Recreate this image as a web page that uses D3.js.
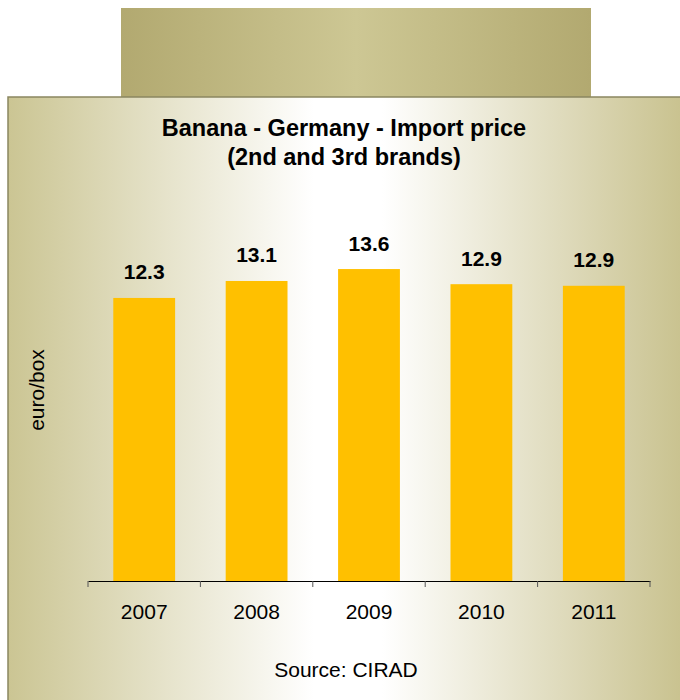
<!DOCTYPE html>
<html>
<head>
<meta charset="utf-8">
<script src="https://cdn.jsdelivr.net/npm/d3@7"></script>
<style>
  body { margin: 0; background: #fff; }
  text { font-family: "Liberation Sans", Arial, sans-serif; fill: #000; }
</style>
</head>
<body>
<div id="chart"></div>
<script>
// Data
const years = ["2007", "2008", "2009", "2010", "2011"];
const prices = [12.34, 13.08, 13.6, 12.94, 12.87];
const titleLines = ["Banana - Germany - Import price", "(2nd and 3rd brands)"];
const yLabel = "euro/box";
const source = "Source: CIRAD";

// Dimensions
const width = 680;
const height = 700;

const svg = d3.select("#chart")
    .append("svg")
    .attr("width", width)
    .attr("height", height);

// Gradients
const defs = svg.append("defs");
const topGrad = defs.append("linearGradient").attr("id", "topGrad");
topGrad.append("stop").attr("offset", "0%").attr("stop-color", "#b2a970");
topGrad.append("stop").attr("offset", "50%").attr("stop-color", "#cdc794");
topGrad.append("stop").attr("offset", "100%").attr("stop-color", "#b2a970");

const panelGrad = defs.append("linearGradient").attr("id", "panelGrad");
panelGrad.append("stop").attr("offset", "0%").attr("stop-color", "#cbc593");
panelGrad.append("stop").attr("offset", "45%").attr("stop-color", "#ffffff");
panelGrad.append("stop").attr("offset", "55%").attr("stop-color", "#ffffff");
panelGrad.append("stop").attr("offset", "100%").attr("stop-color", "#c8c18d");

// Background shapes
svg.append("rect")
    .attr("x", 121).attr("y", 8)
    .attr("width", 470).attr("height", 89)
    .attr("fill", "url(#topGrad)");

svg.append("rect")
    .attr("x", 8).attr("y", 97)
    .attr("width", 680).attr("height", 620)
    .attr("fill", "url(#panelGrad)")
    .attr("stroke", "#8a8660")
    .attr("stroke-width", 1.5);

// Scales
const x = d3.scaleBand()
    .domain(years)
    .range([88, 650])
    .paddingInner(0.45)
    .paddingOuter(0.225);

const y = d3.scaleLinear()
    .domain([0, 16])
    .range([581, 214]);

// Bars
svg.selectAll(".bar")
    .data(years)
    .enter()
    .append("rect")
    .attr("class", "bar")
    .attr("x", d => x(d))
    .attr("y", (d, i) => y(prices[i]))
    .attr("width", x.bandwidth())
    .attr("height", (d, i) => y(0) - y(prices[i]))
    .attr("fill", "#ffc000");

// Value labels
svg.selectAll(".val")
    .data(years)
    .enter()
    .append("text")
    .attr("class", "val")
    .attr("x", d => x(d) + x.bandwidth() / 2)
    .attr("y", (d, i) => y(prices[i]) - 18.5)
    .attr("text-anchor", "middle")
    .style("font-size", "21px")
    .style("font-weight", "bold")
    .text((d, i) => d3.format(".1f")(prices[i]));

// X axis
const xAxis = svg.append("g")
    .attr("transform", `translate(0,${y(0)})`)
    .call(d3.axisBottom(x).tickSize(0).tickPadding(23));
xAxis.select(".domain").attr("stroke", "#000").attr("stroke-width", 1.2);
xAxis.selectAll("text")
    .style("font-size", "21px")
    .style("font-family", "'Liberation Sans', Arial, sans-serif");

// tick marks between categories
const bounds = years.map(d => x(d) - x.step() * x.paddingInner() / 2).concat([650]);
xAxis.selectAll(".sep")
    .data(bounds)
    .enter()
    .append("line")
    .attr("class", "sep")
    .attr("x1", d => d).attr("x2", d => d)
    .attr("y1", 0).attr("y2", 6)
    .attr("stroke", "#555")
    .attr("stroke-width", 1);

// Title
svg.selectAll(".title")
    .data(titleLines)
    .enter()
    .append("text")
    .attr("class", "title")
    .attr("x", 344)
    .attr("y", (d, i) => 136 + i * 29)
    .attr("text-anchor", "middle")
    .style("font-size", "23.5px")
    .style("font-weight", "bold")
    .text(d => d);

// Y label
svg.append("text")
    .attr("transform", "rotate(-90)")
    .attr("x", -390)
    .attr("y", 44)
    .attr("text-anchor", "middle")
    .style("font-size", "21px")
    .text(yLabel);

// Source
svg.append("text")
    .attr("x", 346)
    .attr("y", 677)
    .attr("text-anchor", "middle")
    .style("font-size", "21px")
    .text(source);
</script>
</body>
</html>
